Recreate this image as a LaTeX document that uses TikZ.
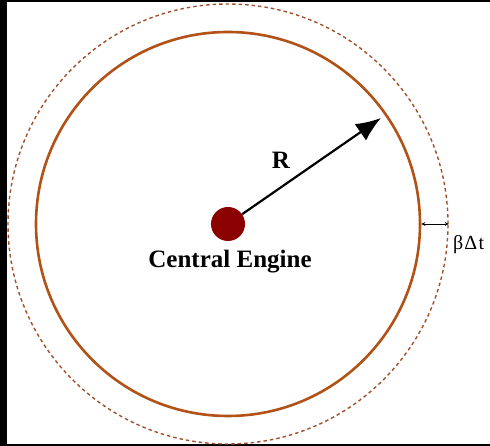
\documentclass[tikz,border=0pt]{standalone}
\usepackage{fontspec}
\setmainfont{Liberation Serif}
\usepackage{tikz}
\usetikzlibrary{positioning, arrows.meta}
\definecolor{shellbrown}{RGB}{178,82,22}
\definecolor{frontbrown}{RGB}{160,82,45}
\definecolor{enginered}{RGB}{139,0,0}

\begin{document}
\begin{tikzpicture}[x=1pt, y=1pt, >={Stealth[length=4pt, width=4pt]}, every node/.style={font=\fontsize{25}{30}\selectfont\bfseries}]
% frame
\fill[black] (0,0) rectangle (490,446);
\fill[white] (7,1.5) rectangle (490,444);
\useasboundingbox (0,0) rectangle (490,446);
% shells
\node[circle, draw=frontbrown, line width=1.4pt, dash pattern=on 3.5pt off 3pt, minimum size=440pt, inner sep=0] (front) at (228,222) {};
\node[circle, draw=shellbrown, line width=2.6pt, minimum size=384pt, inner sep=0] (shell) at (228,222) {};
% engine and radius
\node[circle, fill=enginered, minimum size=34pt, inner sep=0] (engine) at (228,222) {};
\coordinate (tip) at (381,328);
\draw[line width=2.2pt, -{Latex[length=25pt, width=20pt]}] (engine) -- (tip);
\node (R) at (281,286) {R};
\node[anchor=base] (label) at (230,178) {Central Engine};
% shell thickness
\draw[<->, line width=0.8pt] (shell.east) -- (front.east);
\node[anchor=base west, inner sep=0, font=\fontsize{20}{24}\selectfont] (width) at (453,196) {β\hspace{1pt}Δ\hspace{1.5pt}t};
\end{tikzpicture}
\end{document}
